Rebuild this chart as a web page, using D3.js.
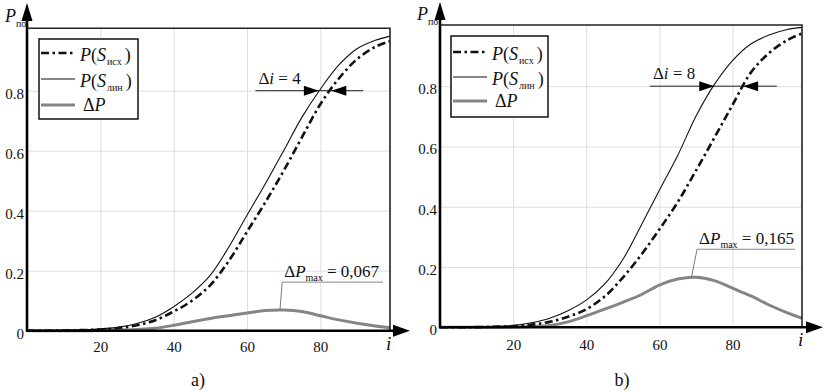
<!DOCTYPE html>
<html><head><meta charset="utf-8">
<script src="https://cdn.jsdelivr.net/npm/d3@7/dist/d3.min.js"></script>
<style>
body{margin:0;background:#fff}
svg text, svg tspan{font-family:"Liberation Serif","Times New Roman",serif !important}
</style></head><body>
<svg id="c" width="824" height="392"></svg>
<script>
// ---------- data ----------
const iValues = [0,5,10,15,20,25,30,35,40,45,50,55,60,65,70,75,80,85,90,95,99];
const leftPIsh  = [0,0,0.0005,0.002,0.004,0.009,0.018,0.035,0.064,0.1,0.152,0.232,0.33,0.428,0.533,0.645,0.755,0.84,0.905,0.946,0.965];
const leftPLin  = [0,0,0.001,0.003,0.006,0.012,0.024,0.045,0.08,0.125,0.185,0.278,0.385,0.49,0.6,0.712,0.805,0.885,0.94,0.968,0.982];
const leftDeltaP= [0,0,0,0,0.0005,0.002,0.004,0.008,0.018,0.03,0.041,0.05,0.059,0.067,0.069,0.064,0.05,0.036,0.025,0.016,0.01];
const rightPIsh  = [0,0,0.0005,0.002,0.004,0.009,0.018,0.035,0.06,0.102,0.165,0.24,0.325,0.415,0.52,0.628,0.738,0.845,0.91,0.953,0.975];
const rightPLin  = [0,0,0.001,0.003,0.006,0.015,0.03,0.055,0.09,0.143,0.225,0.338,0.455,0.57,0.7,0.805,0.885,0.94,0.97,0.988,0.995];
const rightDeltaP= [0,0,0,0,0.001,0.003,0.006,0.018,0.038,0.06,0.083,0.108,0.14,0.16,0.166,0.155,0.13,0.104,0.074,0.048,0.03];
const xTicks = [20,40,60,80];
const yTicks = [0,0.2,0.4,0.6,0.8];
const yTickLabels = ["0","0.2","0.4","0.6","0.8"];
const legendNames = [["P","(","S","исх",")"],["P","(","S","лин",")"],["Δ","P"]];
const leftDeltaI = {label:"4", level:0.8, tips:[79.6,83.0], span:[62.3,91.7]};
const rightDeltaI = {label:"8", level:0.8, tips:[75.0,82.9], span:[57.4,92.1]};
const leftMax = {label:"0,067", peak:[69.0,0.071], under:[69.6,97.1,0.162]};
const rightMax = {label:"0,165", peak:[68.8,0.168], under:[70.3,97.1,0.259]};
const captions = ["a)","b)"];

// ---------- layout ----------
const FONT = '"Liberation Serif", "Times New Roman", serif';
const svg = d3.select("#c");
const panels = [
  {ish:leftPIsh, lin:leftPLin, dp:leftDeltaP, xr:[27,390], yr:[330.7,28.3], yMax:1.008,
   arrowTop:3, arrowRight:410, legend:{x:39,y:39,w:99,h:80,rows:[53,79,105]},
   di:leftDeltaI, mx:leftMax, cap:{x:198,y:386}, tickPad:11, ylab:{x:5,y:22}},
  {ish:rightPIsh, lin:rightPLin, dp:rightDeltaP, xr:[440,802], yr:[327.3,25], yMax:1.003,
   arrowTop:2, arrowRight:823, legend:{x:451,y:36,w:97,h:81,rows:[52,77,101]},
   di:rightDeltaI, mx:rightMax, cap:{x:622,y:386}, tickPad:12, ylab:{x:417,y:20}}
];

function mtext(g, x, y, parts, size, anchor){
  const t = g.append("text").attr("x",x).attr("y",y).style("font-size",size+"px")
     .style("font-family",FONT).attr("fill","#111").attr("text-anchor",anchor||"start");
  parts.forEach(p=>{
    const s = t.append("tspan").text(p.t).style("font-family",FONT);
    if(p.it) s.style("font-style","italic");
    if(p.size) s.style("font-size",p.size+"px");
    if(p.dy) s.attr("dy",p.dy);
    if(p.dx) s.attr("dx",p.dx);
  });
  return t;
}

panels.forEach((P,k)=>{
  const g = svg.append("g");
  const x = d3.scaleLinear().domain([0,99]).range(P.xr);
  const y = d3.scaleLinear().domain([0,P.yMax]).range(P.yr);
  const h = P.yr[0]-P.yr[1], w = P.xr[1]-P.xr[0];

  // grid
  g.append("g").attr("transform",`translate(0,${P.yr[0]})`)
    .call(d3.axisBottom(x).tickValues(xTicks).tickSize(-h).tickFormat(""))
    .call(a=>{a.select(".domain").remove(); a.selectAll("line").attr("stroke","#dedede");});
  g.append("g").attr("transform",`translate(${P.xr[0]},0)`)
    .call(d3.axisLeft(y).tickValues(yTicks.slice(1)).tickSize(-w).tickFormat(""))
    .call(a=>{a.select(".domain").remove(); a.selectAll("line").attr("stroke","#dedede");});

  // curves
  const mk = arr => d3.line().x((d,i)=>x(iValues[i])).y(d=>y(d)).curve(d3.curveCatmullRom.alpha(0.5))(arr);
  g.append("path").attr("d",mk(P.dp)).attr("fill","none").attr("stroke","#858585").attr("stroke-width",3);
  g.append("path").attr("d",mk(P.lin)).attr("fill","none").attr("stroke","#111").attr("stroke-width",1.1);
  g.append("path").attr("d",mk(P.ish)).attr("fill","none").attr("stroke","#111").attr("stroke-width",2.6)
    .attr("stroke-dasharray","8,3.5,2.5,3.5");

  // frame
  g.append("path").attr("d",`M${P.xr[0]},${P.yr[1]}H${P.xr[1]}V${P.yr[0]}`)
    .attr("fill","none").attr("stroke","#222").attr("stroke-width",1.6);
  // axes (thick with arrows)
  const ax0 = P.xr[0];
  g.append("line").attr("x1",ax0).attr("x2",ax0).attr("y1",P.yr[0]+1).attr("y2",P.arrowTop+16)
    .attr("stroke","#000").attr("stroke-width",2.6);
  g.append("path").attr("d",`M${ax0},${P.arrowTop}L${ax0-5.5},${P.arrowTop+18}L${ax0+5.5},${P.arrowTop+18}Z`).attr("fill","#000");
  g.append("line").attr("x1",ax0-1).attr("x2",P.arrowRight-15).attr("y1",P.yr[0]).attr("y2",P.yr[0])
    .attr("stroke","#000").attr("stroke-width",2.6);
  g.append("path").attr("d",`M${P.arrowRight},${P.yr[0]}L${P.arrowRight-17},${P.yr[0]-6}L${P.arrowRight-17},${P.yr[0]+6}Z`).attr("fill","#000");

  // tick labels
  g.append("g").attr("transform",`translate(0,${P.yr[0]})`)
    .call(d3.axisBottom(x).tickValues(xTicks).tickSize(0).tickPadding(P.tickPad))
    .call(a=>{a.attr("font-family",null).attr("font-size",null); a.select(".domain").remove();
      a.selectAll("text").style("font-family",FONT).style("font-size","15px").attr("fill","#111");});
  g.append("g").attr("transform",`translate(${P.xr[0]-1},0)`)
    .call(d3.axisLeft(y).tickValues(yTicks).tickSize(0).tickPadding(2).tickFormat((d,i)=>yTickLabels[i]))
    .call(a=>{a.attr("font-family",null).attr("font-size",null); a.select(".domain").remove();
      a.selectAll("text").style("font-family",FONT).style("font-size","15px").attr("dy","0.5em").attr("fill","#111");});

  // axis labels
  mtext(g, P.ylab.x, P.ylab.y, [{t:"P",it:1},{t:"по",size:10,dy:5}], 18);
  mtext(g, P.xr[1]-4, P.yr[0]+19, [{t:"i",it:1}], 19);

  // legend
  const L = P.legend;
  g.append("rect").attr("x",L.x).attr("y",L.y).attr("width",L.w).attr("height",L.h)
    .attr("fill","#fff").attr("stroke","#111").attr("stroke-width",1.5);
  const styles = [
    {s:"#111",w:2.6,d:"8,3.5,2.5,3.5"},{s:"#111",w:1.1,d:null},{s:"#858585",w:3,d:null}];
  styles.forEach((st,r)=>{
    const ln = g.append("line").attr("x1",L.x+2).attr("x2",L.x+36).attr("y1",L.rows[r]).attr("y2",L.rows[r])
      .attr("stroke",st.s).attr("stroke-width",st.w);
    if(st.d) ln.attr("stroke-dasharray",st.d);
  });
  [0,1].forEach(r=>{
    const n = legendNames[r];
    mtext(g, L.x+41, L.rows[r]+8, [{t:n[0],it:1},{t:n[1]},{t:n[2],it:1},{t:n[3],size:10,dy:4,dx:1},{t:n[4],dy:-4,dx:3}], 18);
  });
  mtext(g, L.x+44, L.rows[2]+6, [{t:legendNames[2][0]},{t:legendNames[2][1],it:1}], 18);

  // delta i annotation
  const D = P.di, ly = y(D.level);
  g.append("line").attr("x1",x(D.span[0])).attr("x2",x(D.span[1])).attr("y1",ly).attr("y2",ly)
    .attr("stroke","#222").attr("stroke-width",1);
  const t1 = x(D.tips[0]), t2 = x(D.tips[1]);
  g.append("path").attr("d",`M${t1},${ly}L${t1-15},${ly-5}L${t1-15},${ly+5}Z`).attr("fill","#000");
  g.append("path").attr("d",`M${t2},${ly}L${t2+15},${ly-5}L${t2+15},${ly+5}Z`).attr("fill","#000");
  mtext(g, x(D.span[0])+3, ly-7, [{t:"Δ"},{t:"i",it:1},{t:" = "+D.label}], 17);

  // max annotation
  const M = P.mx;
  const ux0 = x(M.under[0]), ux1 = x(M.under[1]), uy = y(M.under[2]);
  g.append("line").attr("x1",ux0).attr("x2",ux1).attr("y1",uy).attr("y2",uy).attr("stroke","#888").attr("stroke-width",1);
  g.append("line").attr("x1",ux0).attr("y1",uy).attr("x2",x(M.peak[0])).attr("y2",y(M.peak[1]))
    .attr("stroke","#555").attr("stroke-width",0.8);
  mtext(g, ux0+2, uy-5, [{t:"Δ"},{t:"P",it:1},{t:"max",size:10,dy:4},{t:" = "+M.label,dy:-4}], 17);

  // caption
  mtext(g, P.cap.x, P.cap.y, [{t:captions[k]}], 18, "middle");
});
</script>
</body></html>
